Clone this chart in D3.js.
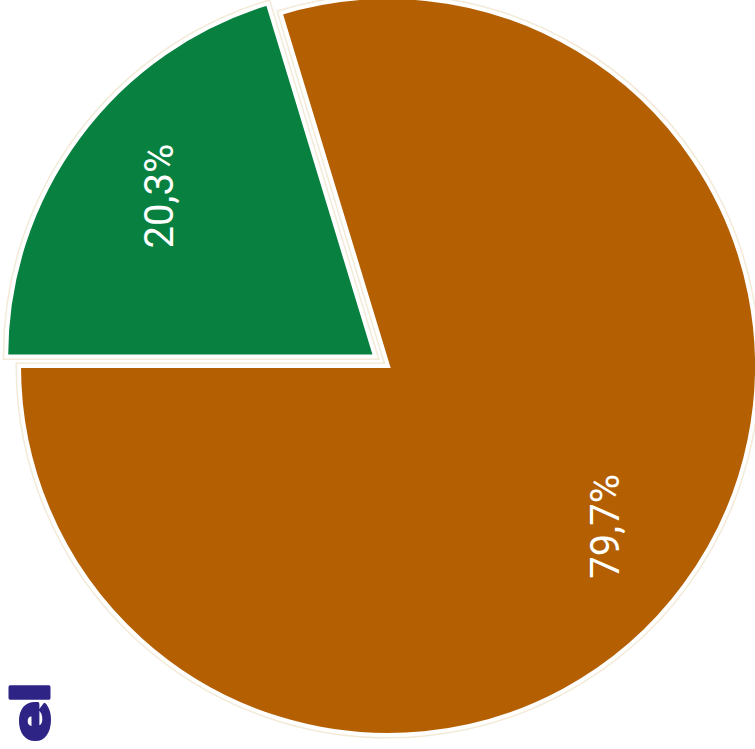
<!DOCTYPE html>
<html>
<head>
<meta charset="utf-8">
<script src="https://cdn.jsdelivr.net/npm/d3@7"></script>
<style>
	html, body { margin: 0; padding: 0; background: #fff; overflow: hidden; }
	svg { display: block; }
</style>
</head>
<body>
<div id="chart"></div>
<script>
// slice data, in drawing order (starting at 9 o'clock, clockwise)
var categories = ["green", "orange"];
var shares = [20.3, 79.7];
var labels = ["20,3%", "79,7%"];
var colors = ["#088140", "#b35f02"];

var width = 755, height = 749;
var cx = 388, cy = 366, radius = 369;
var explode = [16, 0];

var svg = d3.select('#chart').append('svg')
	.attr('width', width)
	.attr('height', height);

var pie = d3.pie()
	.sort(null)
	.value(function(d) { return d; })
	.startAngle(-Math.PI / 2)
	.endAngle(Math.PI * 1.5);

var arcs = pie(shares);

var arc = d3.arc().innerRadius(0).outerRadius(radius);
var labelArc = d3.arc().innerRadius(radius * 0.73).outerRadius(radius * 0.73);

var slices = svg.selectAll('g.slice').data(arcs).enter()
	.append('g')
	.attr('class', 'slice')
	.attr('transform', function(d, i) {
		var mid = (d.startAngle + d.endAngle) / 2;
		var dx = Math.sin(mid) * explode[i];
		var dy = -Math.cos(mid) * explode[i];
		return 'translate(' + (cx + dx) + ',' + (cy + dy) + ')';
	});

// faint halo round each slice
slices.append('path')
	.attr('d', arc)
	.style('fill', 'none')
	.style('stroke', '#f3ead8')
	.style('stroke-width', 7)
	.style('stroke-linejoin', 'miter');

slices.append('path')
	.attr('d', arc)
	.style('fill', function(d, i) { return colors[i]; })
	.style('stroke', '#ffffff')
	.style('stroke-width', 4)
	.style('stroke-linejoin', 'miter');

slices.append('text')
	.attr('transform', function(d) {
		var c = labelArc.centroid(d);
		return 'translate(' + c[0] + ',' + c[1] + ') rotate(-90)';
	})
	.attr('text-anchor', 'middle')
	.attr('dy', '0.36em')
	.style('font-family', 'Roboto, "Open Sans", sans-serif')
	.style('font-size', '40px')
	.style('fill', '#ffffff')
	.text(function(d, i) { return labels[i]; });

// caption fragment in the lower left corner
svg.append('text')
	.attr('transform', 'translate(49,683) rotate(-90) scale(1.4,1)')
	.attr('text-anchor', 'end')
	.style('font-family', 'Roboto, "Open Sans", sans-serif')
	.style('font-weight', 'bold')
	.style('font-size', '52px')
	.style('fill', '#2e2486')
	.style('stroke', '#2e2486')
	.style('stroke-width', 3)
	.style('stroke-linejoin', 'round')
	.text('el');
</script>
</body>
</html>
